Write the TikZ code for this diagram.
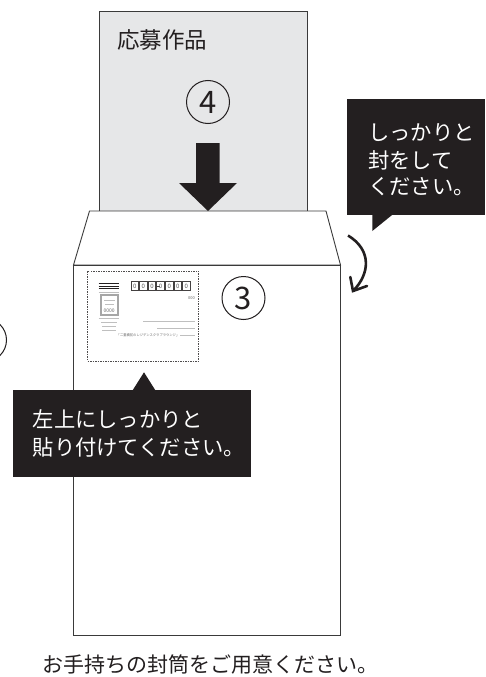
\documentclass[tikz,border=0pt]{standalone}
\usepackage{fontspec}
\newfontfamily\jp{Noto Sans CJK JP}
\definecolor{ink}{HTML}{231F20}
\definecolor{paper}{HTML}{E6E7E8}
\definecolor{edge}{HTML}{3A3A3A}
\begin{document}
\begin{tikzpicture}[x=1pt,y=-1pt,
  outline/.style={draw=edge,line width=0.9pt},
  bubble/.style={fill=ink,draw=none},
  btext/.style={font=\jp\fontsize{21.3}{27}\selectfont,text=white,inner sep=0pt,anchor=west},
  numcirc/.style={circle,draw=ink,line width=1pt,minimum size=43pt,inner sep=0pt,font=\jp\fontsize{31}{31}\selectfont,text=ink},
  tinybar/.style={draw=gray!50,line width=1pt},
  tinytxt/.style={font=\jp\fontsize{3.3}{4}\selectfont,text=gray!80!black,inner sep=0pt},
  zipbox/.style={draw=ink!85,line width=1pt,minimum width=7.6pt,minimum height=9pt,inner sep=0pt,font=\jp\fontsize{6}{6}\selectfont,text=gray!70!black}]
\useasboundingbox (0,0) rectangle (485,677);
\fill[white] (0,0) rectangle (485,677);
% paper
\filldraw[fill=paper,outline] (99.5,11.5) rectangle (307.5,240);
\node[font=\jp\fontsize{22.5}{22.5}\selectfont,text=ink,inner sep=0pt,anchor=west] (title) at (117,40) {応募作品};
\node[numcirc] (n4) at (208,102) {4};
% big arrow
\fill[ink] (196,143) -- (219.5,143) -- (219.5,183) -- (237,183) -- (208,211) -- (179,183) -- (196,183) -- cycle;
% envelope flap and body
\filldraw[fill=white,outline] (89.5,211) -- (326,211) -- (340.5,265) -- (73.5,265) -- cycle;
\filldraw[fill=white,outline] (73.5,265) rectangle (340.5,635);
% stamp/address label area
\draw[draw=ink!80,line width=0.8pt,dash pattern=on 1.5pt off 1pt] (87.5,271) rectangle (198.5,361);
\draw[ink,line width=0.8pt] (98.5,283.3) -- (119,283.3) (98.5,286) -- (119,286) (98.5,288.7) -- (119,288.7);
\draw[tinybar] (98.5,292) -- (119,292);
\draw[gray!70,line width=0.7pt] (100,294) rectangle (118.5,315.5);
\draw[gray!70,line width=0.5pt] (101.5,295.5) rectangle (117,314);
\draw[tinybar] (104,300) -- (114.5,300) (105,304) -- (113.5,304);
\node[tinytxt,font=\jp\fontsize{5}{5}\selectfont] (n0000) at (109.2,310.3) {0000};
\draw[tinybar] (98.5,318.5) -- (119,318.5) (101,322.5) -- (116.5,322.5) (102,326.5) -- (116,326.5) (102,330.5) -- (116,330.5);
% postal code boxes
\node[zipbox] (z1) at (134.8,286.2) {0};
\node[zipbox] (z2) at (143.4,286.2) {0};
\node[zipbox] (z3) at (152,286.2) {0};
\draw[ink!85,line width=0.9pt] (z3.east) ++(0.8,0) -- ++(3,0);
\node[zipbox] (z4) at (160.6,286.2) {0};
\node[zipbox] (z5) at (169.2,286.2) {0};
\node[zipbox] (z6) at (177.8,286.2) {0};
\node[zipbox] (z7) at (186.4,286.2) {0};
\node[tinytxt,anchor=east,font=\jp\fontsize{4}{4}\selectfont] (n000) at (195,297.7) {000};
\draw[tinybar] (143,321) -- (195,321) (157,328) -- (195,328) (180,335) -- (195,335);
\node[tinytxt,anchor=west] (addr) at (116.5,335) {「二重橋前のレジデンスクラブラウンジ」};
\node[numcirc] (n3) at (243.5,298) {3};
% partial circle at left edge
\draw[ink,line width=1pt] (-15,340) circle[radius=21.5];
% left bubble
\fill[bubble] (12.7,390) rectangle (250.7,476.7);
\fill[bubble] (132.5,390.5) -- (144,372.3) -- (155.5,390.5) -- cycle;
\node[btext] (lb1) at (32.5,419) {左上にしっかりと};
\node[btext] (lb2) at (32.5,447) {貼り付けてください。};
% right bubble
\fill[bubble] (347.3,99) rectangle (485,215);
\fill[bubble] (372.3,214) -- (372.3,231) -- (393.3,214) -- cycle;
\node[btext] (rb1) at (368,133) {しっかりと};
\node[btext] (rb2) at (368,160) {封をして};
\node[btext] (rb3) at (368,187) {ください。};
% curved arrow
\coordinate (ca) at (348,235.5);
\coordinate (cb) at (353,291);
\draw[ink,line width=2.6pt] (ca) .. controls (372,250) and (370,274) .. (cb);
\draw[ink,line width=2.6pt,line cap=round,line join=miter] (350.3,277) -- (cb) -- (367,286);
% caption
\node[font=\jp\fontsize{21}{21}\selectfont,text=ink,inner sep=0pt] (cap) at (210,665) {お手持ちの封筒をご用意ください。};
\end{tikzpicture}
\end{document}
